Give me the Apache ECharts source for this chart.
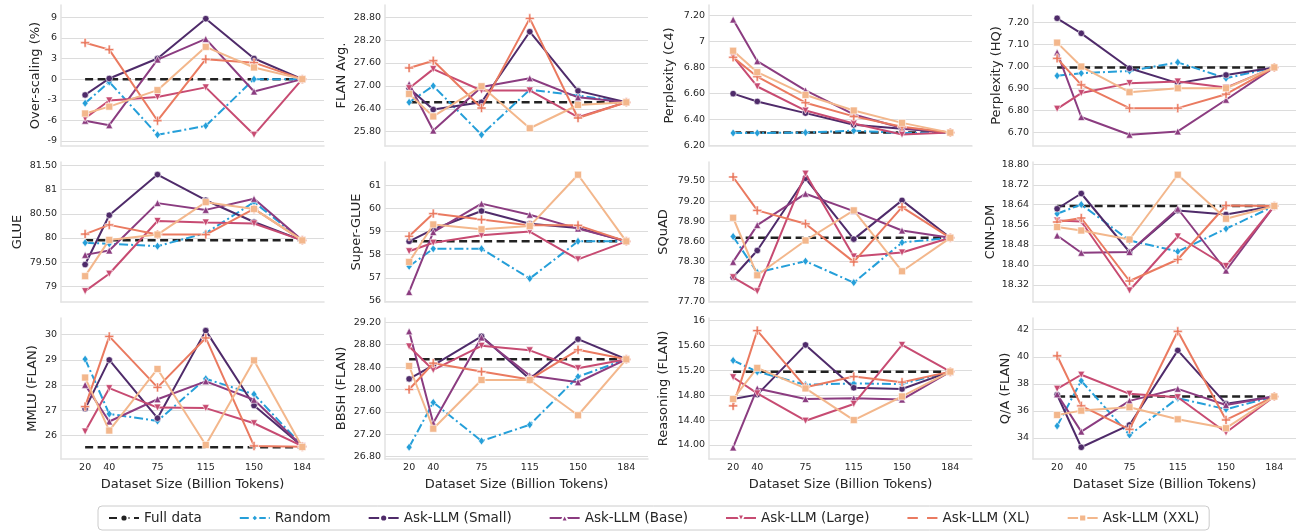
<!DOCTYPE html>
<html><head><meta charset="utf-8">
<script src="https://cdn.jsdelivr.net/npm/echarts@6/dist/echarts.min.js"></script>
<style>html,body{margin:0;padding:0;background:#fff}#c{width:1296px;height:531px}</style>
</head><body><div id="c"></div>
<script>
// ---------- data ----------
const xTickLabels = ['20', '40', '75', '115', '150', '184'];
const xOrdinal = [0.5, 1, 2, 3, 4, 5]; // ordinal plotting slot of each dataset size
const seriesNames = ['Full data', 'Random', 'Ask-LLM (Small)', 'Ask-LLM (Base)', 'Ask-LLM (Large)', 'Ask-LLM (XL)', 'Ask-LLM (XXL)'];
const panelTitles = ['Over-scaling (%)', 'FLAN Avg.', 'Perplexity (C4)', 'Perplexity (HQ)', 'GLUE', 'Super-GLUE', 'SQuAD', 'CNN-DM', 'MMLU (FLAN)', 'BBSH (FLAN)', 'Reasoning (FLAN)', 'Q/A (FLAN)'];
const fullDataValues = [0, 26.57, 6.30, 6.995, 79.95, 58.58, 78.65, 18.635, 25.54, 28.54, 15.18, 37.06];

// rows: Random, Small, Base, Large, XL, XXL
const overScaling = [
  [-3.5, -0.4, -8.1, -6.8, 0, 0],
  [-2.3, 0.1, 3.0, 8.8, 3.0, 0],
  [-6.05, -6.7, 2.85, 5.85, -1.8, 0],
  [-5.7, -3.1, -2.6, -1.2, -8.1, 0],
  [5.3, 4.3, -6.05, 2.9, 2.4, 0],
  [-5.0, -4.0, -1.6, 4.7, 1.7, 0]
];
const flanAvg = [
  [26.57, 27.0, 25.72, 26.90, 26.75, 26.57],
  [26.94, 26.38, 26.57, 28.42, 26.87, 26.57],
  [27.05, 25.83, 26.97, 27.20, 26.70, 26.57],
  [26.94, 27.44, 26.88, 26.88, 26.18, 26.57],
  [27.47, 27.66, 26.42, 28.77, 26.16, 26.57],
  [26.79, 26.20, 26.99, 25.89, 26.50, 26.57]
];
const perplexityC4 = [
  [6.297, 6.297, 6.30, 6.315, 6.297, 6.30],
  [6.60, 6.54, 6.45, 6.36, 6.33, 6.30],
  [7.17, 6.85, 6.625, 6.44, 6.335, 6.30],
  [6.885, 6.655, 6.47, 6.37, 6.285, 6.30],
  [6.88, 6.73, 6.53, 6.425, 6.345, 6.30],
  [6.93, 6.765, 6.59, 6.47, 6.375, 6.30]
];
const perplexityHQ = [
  [6.957, 6.969, 6.979, 7.018, 6.946, 6.995],
  [7.217, 7.149, 6.991, 6.924, 6.961, 6.995],
  [7.063, 6.771, 6.691, 6.706, 6.849, 6.995],
  [6.808, 6.879, 6.924, 6.931, 6.904, 6.995],
  [7.036, 6.916, 6.811, 6.811, 6.874, 6.995],
  [7.107, 6.999, 6.883, 6.901, 6.901, 6.995]
];
const glue = [
  [79.90, 79.88, 79.83, 80.10, 80.74, 79.95],
  [79.45, 80.47, 81.31, 80.78, 80.33, 79.95],
  [79.65, 79.74, 80.72, 80.58, 80.81, 79.95],
  [78.90, 79.26, 80.35, 80.32, 80.30, 79.95],
  [80.08, 80.27, 80.07, 80.07, 80.60, 79.95],
  [79.21, 79.96, 80.07, 80.74, 80.60, 79.95]
];
const superGlue = [
  [57.50, 58.26, 58.26, 56.97, 58.58, 58.58],
  [58.58, 59.10, 59.89, 59.34, 59.16, 58.58],
  [56.39, 58.98, 60.21, 59.73, 59.13, 58.58],
  [58.15, 58.52, 58.84, 59.00, 57.80, 58.58],
  [58.80, 59.78, 59.52, 59.27, 59.27, 58.58],
  [57.69, 59.31, 59.10, 59.24, 61.46, 58.58]
];
const squad = [
  [78.67, 78.13, 78.30, 77.98, 78.58, 78.65],
  [78.06, 78.46, 79.54, 78.63, 79.21, 78.65],
  [78.29, 78.84, 79.31, 79.05, 78.76, 78.65],
  [78.06, 77.85, 79.61, 78.37, 78.43, 78.65],
  [79.56, 79.06, 78.86, 78.29, 79.11, 78.65],
  [78.95, 78.09, 78.61, 79.06, 78.15, 78.65]
];
const cnnDm = [
  [18.604, 18.641, 18.497, 18.453, 18.544, 18.635],
  [18.624, 18.685, 18.451, 18.617, 18.601, 18.635],
  [18.517, 18.448, 18.451, 18.624, 18.377, 18.635],
  [18.577, 18.573, 18.297, 18.513, 18.395, 18.635],
  [18.571, 18.587, 18.335, 18.421, 18.637, 18.635],
  [18.551, 18.537, 18.501, 18.760, 18.584, 18.635]
];
const mmlu = [
  [29.03, 26.86, 26.58, 28.25, 27.64, 25.60],
  [27.06, 29.00, 26.69, 30.16, 27.19, 25.58],
  [28.01, 26.56, 27.44, 28.15, 27.42, 25.58],
  [26.16, 27.88, 27.11, 27.09, 26.49, 25.58],
  [27.15, 29.93, 27.91, 29.87, 25.59, 25.56],
  [28.30, 26.20, 28.64, 25.63, 28.98, 25.55]
];
const bbsh = [
  [26.97, 27.77, 27.08, 27.37, 28.23, 28.54],
  [28.19, 28.43, 28.95, 28.19, 28.90, 28.54],
  [29.04, 27.40, 28.93, 28.25, 28.13, 28.54],
  [28.77, 28.35, 28.78, 28.70, 28.38, 28.54],
  [28.00, 28.47, 28.32, 28.18, 28.71, 28.54],
  [28.42, 27.30, 28.17, 28.17, 27.54, 28.54]
];
const reasoning = [
  [15.36, 15.18, 14.97, 14.99, 14.98, 15.18],
  [14.74, 14.81, 15.61, 14.92, 14.90, 15.18],
  [13.96, 14.91, 14.74, 14.75, 14.73, 15.18],
  [15.09, 14.83, 14.39, 14.66, 15.61, 15.18],
  [14.63, 15.84, 14.93, 15.10, 15.01, 15.18],
  [14.74, 15.24, 14.91, 14.40, 14.78, 15.18]
];
const qa = [
  [34.89, 38.22, 34.22, 36.94, 36.12, 37.06],
  [37.19, 33.31, 34.96, 40.47, 36.52, 37.06],
  [37.23, 34.47, 36.74, 37.63, 36.44, 37.06],
  [37.63, 38.67, 37.26, 37.01, 34.40, 37.06],
  [40.07, 36.37, 34.64, 41.88, 35.33, 37.06],
  [35.70, 36.02, 36.27, 35.38, 34.72, 37.06]
];

// y tick labels
const overScalingTicks = ['-9', '-6', '-3', '0', '3', '6', '9'];
const flanAvgTicks = ['25.80', '26.40', '27.00', '27.60', '28.20', '28.80'];
const perplexityC4Ticks = ['6.20', '6.40', '6.60', '6.80', '7', '7.20'];
const perplexityHQTicks = ['6.70', '6.80', '6.90', '7.00', '7.10', '7.20'];
const glueTicks = ['79', '79.50', '80', '80.50', '81', '81.50'];
const superGlueTicks = ['56', '57', '58', '59', '60', '61'];
const squadTicks = ['77.70', '78', '78.30', '78.60', '78.90', '79.20', '79.50'];
const cnnDmTicks = ['18.32', '18.40', '18.48', '18.56', '18.64', '18.72', '18.80'];
const mmluTicks = ['26', '27', '28', '29', '30'];
const bbshTicks = ['26.80', '27.20', '27.60', '28.00', '28.40', '28.80', '29.20'];
const reasoningTicks = ['14.00', '14.40', '14.80', '15.20', '15.60', '16'];
const qaTicks = ['34', '36', '38', '40', '42'];

// ---------- layout / style ----------
const panelValues = [overScaling, flanAvg, perplexityC4, perplexityHQ, glue, superGlue, squad, cnnDm, mmlu, bbsh, reasoning, qa];
const panelTicks = [overScalingTicks, flanAvgTicks, perplexityC4Ticks, perplexityHQTicks, glueTicks, superGlueTicks, squadTicks, cnnDmTicks, mmluTicks, bbshTicks, reasoningTicks, qaTicks];
const yRange = [[-9.73, 10.79], [25.425, 29.12], [6.197, 7.282], [6.64, 7.277], [78.676, 81.57], [55.957, 62.01], [77.69, 79.784], [18.251, 18.811], [25.073, 30.66], [26.758, 29.278], [13.774, 16.043], [32.444, 42.864]];
const nameGaps = [19, 37, 33, 30, 37, 22, 39, 36, 22, 37, 39, 21];
const colLeft = [61, 385, 709, 1033];
const rowTop = [5, 162, 318];
const rowH = [141, 140, 141];
const gridW = 263;

const FONT = 'DejaVu Sans';
const TXT = '#262626';
const colors = ['#222222', '#259fd9', '#4f2b6a', '#8b3c80', '#c74b72', '#ea7a60', '#f3b78c'];
const plusPath = 'path://M3.4,0H5.6V3.4H9V5.6H5.6V9H3.4V5.6H0V3.4H3.4Z';
const symbols = ['none', 'diamond', 'circle', 'triangle', 'triangle', plusPath, 'rect'];
const symbolRot = [0, 0, 0, 0, 180, 0, 0];
const symbolSizes = [0, [6, 8], 6.5, 7, 7, 9, 7];
const lineTypes = [[8, 4.5], [9, 3, 2, 3], 'solid', 'solid', 'solid', 'solid', 'solid'];
const lineWidths = [2.5, 2, 2, 2, 2, 2, 2];

const grids = [], xAxes = [], yAxes = [], series = [];
for (let p = 0; p < 12; p++) {
  const r = Math.floor(p / 4), c = p % 4;
  grids.push({left: colLeft[c], top: rowTop[r], width: gridW, height: rowH[r], outerBoundsMode: 'none', containLabel: false});
  const ticks = panelTicks[p];
  const tickVals = ticks.map(Number);
  xAxes.push({
    gridIndex: p, type: 'value', min: 0, max: 5.45,
    axisLine: {show: true, onZero: false, lineStyle: {color: '#e2e2e2', width: 1.5}},
    axisTick: {show: false, customValues: xOrdinal},
    axisLabel: {show: r === 2, customValues: xOrdinal, margin: 4,
      formatter: v => { const i = xOrdinal.findIndex(x => Math.abs(x - v) < 1e-6); return i >= 0 ? xTickLabels[i] : ''; },
      fontFamily: FONT, fontSize: 9.5, color: TXT},
    splitLine: {show: false},
    name: r === 2 ? 'Dataset Size (Billion Tokens)' : '', nameLocation: 'middle', nameGap: 19,
    nameTextStyle: {fontFamily: FONT, fontSize: 13, color: TXT}, nameMoveOverlap: false
  });
  yAxes.push({
    gridIndex: p, type: 'value', min: yRange[p][0], max: yRange[p][1],
    axisLine: {show: true, onZero: false, lineStyle: {color: '#e2e2e2', width: 1.5}},
    axisTick: {show: false, customValues: tickVals},
    axisLabel: {customValues: tickVals, margin: 4,
      formatter: v => { const i = tickVals.findIndex(t => Math.abs(t - v) < 1e-6); return i >= 0 ? ticks[i] : ''; },
      fontFamily: FONT, fontSize: 9.5, color: TXT},
    splitLine: {show: true, lineStyle: {color: '#dcdcdc', width: 1.2}},
    name: panelTitles[p], nameLocation: 'middle', nameGap: nameGaps[p], nameMoveOverlap: false,
    nameTextStyle: {fontFamily: FONT, fontSize: 13, color: TXT}
  });
  for (let s = 0; s < 7; s++) {
    const vals = s === 0 ? xOrdinal.map(() => fullDataValues[p]) : panelValues[p][s - 1];
    series.push({
      type: 'line', name: seriesNames[s], xAxisIndex: p, yAxisIndex: p,
      data: xOrdinal.map((x, i) => [x, vals[i]]),
      symbol: symbols[s], symbolSize: symbolSizes[s], symbolRotate: symbolRot[s], showSymbol: s !== 0,
      lineStyle: {color: colors[s], width: lineWidths[s], type: lineTypes[s]},
      itemStyle: {color: colors[s], borderColor: '#ffffff', borderWidth: 0.6},
      z: 2 + s, animation: false, silent: true
    });
  }
}

const chart = echarts.init(document.getElementById('c'), null, {renderer: 'canvas'});
chart.setOption({
  backgroundColor: '#ffffff',
  animation: false,
  grid: grids, xAxis: xAxes, yAxis: yAxes, series: series,
  legend: {
    data: seriesNames, left: 98, top: 506, orient: 'horizontal',
    itemWidth: 30, itemHeight: 9, itemGap: 37, padding: [5, 10],
    borderColor: '#cccccc', borderWidth: 1, borderRadius: 4, backgroundColor: '#ffffff',
    textStyle: {fontFamily: FONT, fontSize: 13.5, color: TXT}
  }
});
</script></body></html>
